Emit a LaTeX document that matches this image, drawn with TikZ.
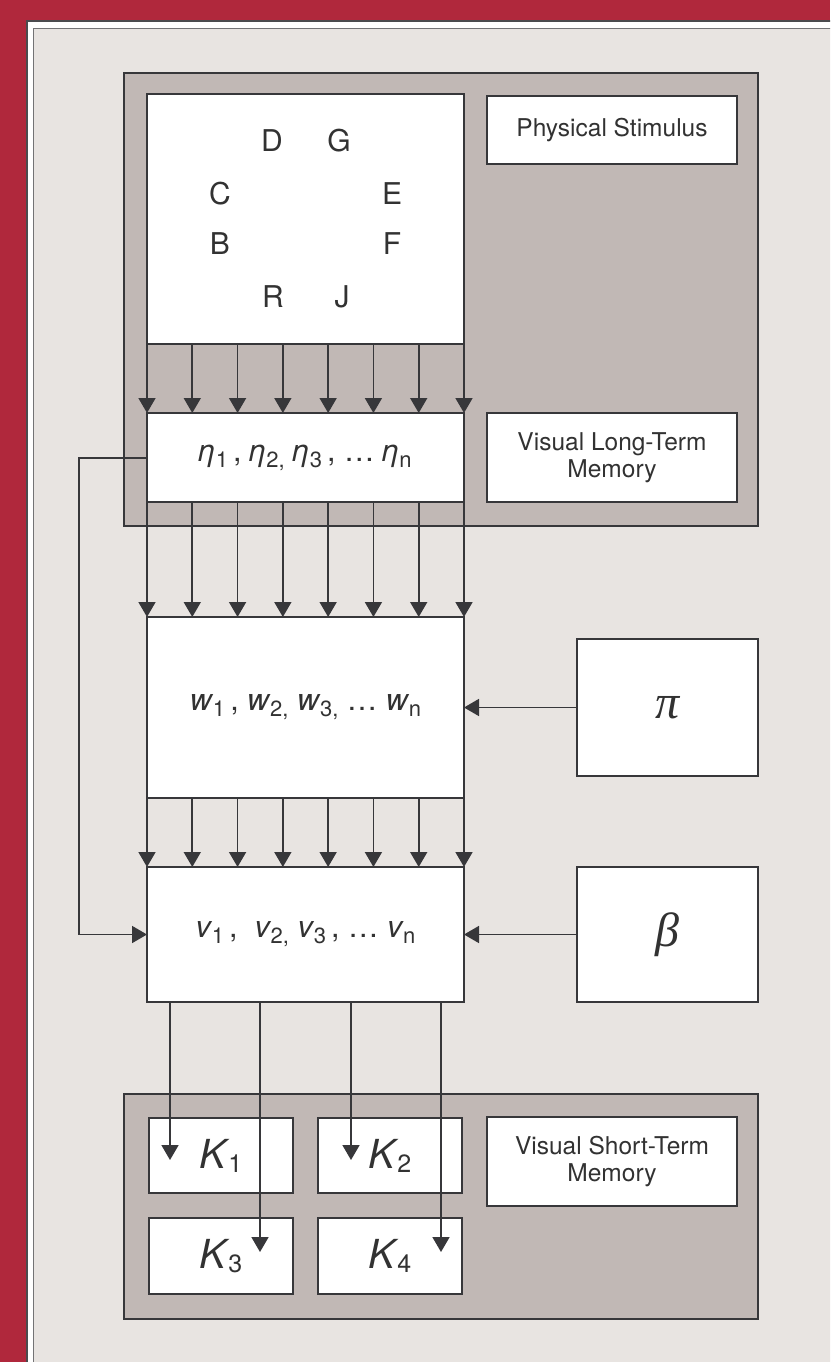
\documentclass[tikz,border=0pt]{standalone}
\usepackage{fontspec}
\setmainfont{TeX Gyre Heros}
\newfontfamily\serifit{Liberation Serif}
\usetikzlibrary{arrows.meta,calc}
\definecolor{framered}{RGB}{176,40,60}
\definecolor{panel}{RGB}{232,228,225}
\definecolor{shade}{RGB}{193,184,181}
\definecolor{ink}{RGB}{55,55,58}
\definecolor{txt}{RGB}{50,50,50}
\newcommand\subsz{\fontsize{22}{22}\selectfont}
\newcommand\isub[2]{\textit{#1}\kern-0.5pt\raisebox{-6pt}{\subsz #2}}
\newcommand\scomma{\raisebox{-6pt}{\subsz ,}}
\begin{document}
\begin{tikzpicture}[x=1pt,y=-1pt,
  box/.style={draw=ink,fill=white,line width=1.6pt,inner sep=0pt,outer sep=0pt,text=txt},
  region/.style={draw=ink,fill=shade,line width=2pt},
  arr/.style={draw=ink,line width=1.7pt,-{Triangle[width=17pt,length=15pt]}},
  lbl/.style={font=\fontsize{24.5}{27}\selectfont,align=center,text=txt},
  letter/.style={font=\fontsize{30}{30}\selectfont,text=txt,inner sep=0pt},
  seq/.style={font=\fontsize{30.5}{30}\selectfont},
  kfont/.style={font=\fontsize{40}{40}\selectfont},
  greek/.style={font=\fontsize{48}{48}\selectfont\serifit\itshape},
  ]
\useasboundingbox (0,0) rectangle (830,1362);
\begin{scope}
\clip (0,0) rectangle (830,1362);
\fill[framered] (0,0) rectangle (830,1362);
\draw[fill=white,draw=ink!90,line width=2pt] (27,21) rectangle (850,1400);
\draw[fill=panel,draw=ink!70,line width=1.8pt] (33.5,28.5) rectangle (850,1400);
\end{scope}

% shaded regions
\draw[region] (123.5,73.5) rectangle (758,526);
\draw[region] (123.5,1093.5) rectangle (758,1318.5);

% boxes
\node[box,minimum width=317pt,minimum height=250pt] (stim) at (305.5,219) {};
\node[box,minimum width=250pt,minimum height=68pt,lbl] (phys) at (612,130) {Physical Stimulus};
\node[box,minimum width=317pt,minimum height=89pt,seq] (eta) at (305.5,457.5)
  {\isub{η}{1}\,,\ \isub{η}{2}\scomma\ \isub{η}{3}\,,\ …\ \isub{η}{n}};
\node[box,minimum width=250pt,minimum height=89pt,lbl] (vltm) at (612,457.5) {Visual Long-Term\\Memory};
\node[box,minimum width=317pt,minimum height=181pt,seq] (wbox) at (305.5,707.5)
  {\isub{w}{1}\,,\ \isub{w}{2}\scomma\ \isub{w}{3}\scomma\ …\ \isub{w}{n}};
\node[box,minimum width=317pt,minimum height=135pt,seq] (vbox) at (305.5,934.5)
  {\isub{v}{1}\,,\ \ \isub{v}{2}\scomma\ \isub{v}{3}\,,\ …\ \isub{v}{n}};
\node[box,minimum width=181pt,minimum height=137pt,greek] (pi) at (667.5,707.5) {π};
\node[box,minimum width=181pt,minimum height=135pt,greek] (beta) at (667.5,934.5) {β};
\node[box,minimum width=144pt,minimum height=75pt,kfont] (K1) at (221,1155.5) {\textit{K}\kern-2pt\raisebox{-4pt}{\fontsize{25}{25}\selectfont 1}};
\node[box,minimum width=144pt,minimum height=75pt,kfont] (K2) at (390,1155.5) {\textit{K}\kern-2pt\raisebox{-4pt}{\fontsize{25}{25}\selectfont 2}};
\node[box,minimum width=144pt,minimum height=76pt,kfont] (K3) at (221,1256) {\textit{K}\kern-2pt\raisebox{-4pt}{\fontsize{25}{25}\selectfont 3}};
\node[box,minimum width=144pt,minimum height=76pt,kfont] (K4) at (390,1256) {\textit{K}\kern-2pt\raisebox{-4pt}{\fontsize{25}{25}\selectfont 4}};
\node[box,minimum width=250pt,minimum height=89pt,lbl] (vstm) at (612,1161.5) {Visual Short-Term\\Memory};

% letters of the stimulus
\node[letter] (lD) at (272,141) {D};
\node[letter] (lG) at (339,141) {G};
\node[letter] (lC) at (220,194) {C};
\node[letter] (lE) at (392,194) {E};
\node[letter] (lB) at (220,244) {B};
\node[letter] (lF) at (392,244) {F};
\node[letter] (lR) at (273,297) {R};
\node[letter] (lJ) at (342,297) {J};

% parallel arrows
\foreach \i in {0,...,7}{
  \draw[arr] ($(stim.south west)!{\i/7}!(stim.south east)$) -- ($(eta.north west)!{\i/7}!(eta.north east)$);
  \draw[arr] ($(eta.south west)!{\i/7}!(eta.south east)$) -- ($(wbox.north west)!{\i/7}!(wbox.north east)$);
  \draw[arr] ($(wbox.south west)!{\i/7}!(wbox.south east)$) -- ($(vbox.north west)!{\i/7}!(vbox.north east)$);
}

% side inputs
\draw[arr] (pi.west) -- (wbox.east);
\draw[arr] (beta.west) -- (vbox.east);

% feedback from eta to v
\coordinate (fb1) at (79,458);
\coordinate (fb2) at (79,934.5);
\draw[arr] (eta.west |- fb1) -- (fb1) -- (fb2) -- (vbox.west);

% outputs to K boxes
\coordinate (t1) at (170,1160);
\coordinate (t2) at (260,1252);
\coordinate (t3) at (351,1160);
\coordinate (t4) at (441,1252);
\draw[arr] (vbox.south -| t1) -- (t1);
\draw[arr] (vbox.south -| t2) -- (t2);
\draw[arr] (vbox.south -| t3) -- (t3);
\draw[arr] (vbox.south -| t4) -- (t4);
\end{tikzpicture}
\end{document}
